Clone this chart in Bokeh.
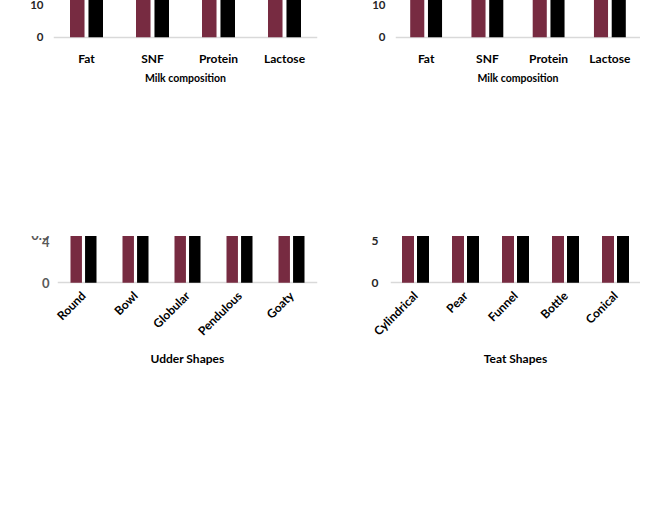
import math
from bokeh.plotting import figure
from bokeh.models import (FactorRange, Range1d, FixedTicker, ColumnDataSource, Label,
                          Legend, LegendItem)
from bokeh.transform import dodge
from bokeh.layouts import row, column
from bokeh.embed import file_html
from bokeh.resources import INLINE

# ---------------- data ----------------
comp_cats = ["Fat", "SNF", "Protein", "Lactose"]
cattle_healthy = [4.23, 7.08, 3.5, 4.5]
cattle_healthy_err = [0.79, 0.78, 0.8, 0.8]
cattle_mastitis = [3.6, 6.5, 3.03, 4.0]
cattle_mastitis_err = [0.8, 0.8, 0.78, 0.75]

buffalo_healthy = [5.81, 8.06, 3.11, 4.11]
buffalo_healthy_err = [1.09, 1.13, 1.1, 1.14]
buffalo_mastitis = [5.22, 8.0, 2.61, 4.03]
buffalo_mastitis_err = [1.17, 1.15, 1.17, 1.19]

udder_cats = ["Round", "Bowl", "Globular", "Pendulous", "Goaty"]
udder_cattle = [2.11, 2.87, 2.73, 3.39, 2.55]
udder_cattle_err = [0.22, 0.22, 0.24, 0.24, 0.22]
udder_buffalo = [3.39, 2.99, 3.08, 3.6, 2.87]
udder_buffalo_err = [0.14, 0.13, 0.16, 0.15, 0.15]

teat_cats = ["Cylindrical", "Pear", "Funnel", "Bottle", "Conical"]
teat_cattle = [1.97, 3.06, 2.91, 2.53, 2.09]
teat_cattle_err = [0.25, 0.27, 0.27, 0.26, 0.27]
teat_buffalo = [3.37, 4.18, 3.17, 2.69, 3.28]
teat_buffalo_err = [0.28, 0.28, 0.28, 0.26, 0.29]

comp_ticks = [0, 2, 4, 6, 8, 10]
udder_ticks = [0, 0.5, 1, 1.5, 2, 2.5, 3, 3.5, 4]
teat_ticks = [0, 1, 2, 3, 4, 5]

MAROON = "#772B41"
BLACK = "#000000"
ERR = "#595959"
GRID = "#D9D9D9"
FONT = "Lato"


def build(cats, v1, e1, v2, e2, names, ymin, ymax, ticks, ylabel, xlabel,
          width, height, bl, bt, br, fh, off, bw,
          tick_color, tick_size, ylab_size, ylab_standoff, yl_standoff,
          rotate, xl_size, xl_standoff, xlab_standoff, xlab_size,
          leg_size, leg_spacing, leg_margin, texts):
    p = figure(x_range=FactorRange(*cats), y_range=Range1d(ymin, ymax),
               width=width, height=height, output_backend="svg",
               toolbar_location=None, min_border_left=bl, min_border_top=bt,
               min_border_right=br, min_border_bottom=height - bt - fh)
    p.outline_line_color = None
    p.xgrid.grid_line_color = None
    p.ygrid.grid_line_color = GRID
    p.ygrid.grid_line_width = 1.5
    p.yaxis.ticker = FixedTicker(ticks=ticks)
    for ax in (p.xaxis[0], p.yaxis[0]):
        ax.axis_line_color = None
        ax.major_tick_line_color = None
        ax.minor_tick_line_color = None
        ax.major_tick_out = 0
        ax.major_tick_in = 0
        ax.major_label_text_font = FONT
        ax.major_label_text_font_style = "bold"
        ax.axis_label_text_font = FONT
        ax.axis_label_text_font_style = "bold"
        ax.axis_label_text_color = "#000000"
    p.yaxis.major_label_text_color = tick_color
    p.yaxis.major_label_text_font_size = tick_size
    p.yaxis.major_label_standoff = yl_standoff
    p.yaxis.axis_label = ylabel
    p.yaxis.axis_label_text_font_size = ylab_size
    p.yaxis.axis_label_standoff = ylab_standoff
    p.xaxis.major_label_text_color = "#000000"
    p.xaxis.major_label_text_font_size = xl_size
    p.xaxis.major_label_standoff = xl_standoff
    if rotate:
        p.xaxis.major_label_orientation = math.pi / 4
    p.xaxis.axis_label = xlabel
    p.xaxis.axis_label_text_font_size = xlab_size
    p.xaxis.axis_label_standoff = xlab_standoff

    src = ColumnDataSource(dict(
        cat=cats, v1=v1, v2=v2,
        lo1=[a - b for a, b in zip(v1, e1)], hi1=[a + b for a, b in zip(v1, e1)],
        lo2=[a - b for a, b in zip(v2, e2)], hi2=[a + b for a, b in zip(v2, e2)]))
    rends = []
    for key, lo, hi, o, col in (("v1", "lo1", "hi1", -off, MAROON),
                                ("v2", "lo2", "hi2", off, BLACK)):
        x = dodge("cat", o, range=p.x_range)
        r = p.vbar(x=x, top=key, bottom=0, width=bw, source=src,
                   fill_color=col, line_color=None)
        rends.append(r)
        p.segment(x0=x, y0=lo, x1=x, y1=hi, source=src, line_color=ERR, line_width=2)
        p.scatter(x=x, y=lo, source=src, marker="dash", size=7, line_color=ERR, line_width=2)
        p.scatter(x=x, y=hi, source=src, marker="dash", size=7, line_color=ERR, line_width=2)

    leg = Legend(items=[LegendItem(label=names[0], renderers=[rends[0]]),
                        LegendItem(label=names[1], renderers=[rends[1]])],
                 orientation="horizontal", location="center",
                 label_text_font=FONT, label_text_font_style="bold",
                 label_text_font_size=leg_size, label_standoff=2,
                 glyph_width=9, glyph_height=9, spacing=leg_spacing,
                 padding=0, margin=leg_margin, border_line_color=None,
                 background_fill_alpha=0, label_height=12)
    p.add_layout(leg, "below")

    # texts given in pixel coords relative to the figure's top-left corner
    for (tx, ty, txt, size) in texts:
        p.add_layout(Label(x=tx - bl, y=bt + fh - ty, x_units="screen", y_units="screen",
                           text=txt, text_font=FONT, text_font_style="bold",
                           text_font_size=size, text_align="center",
                           text_baseline="middle", text_color="#000000"))
    return p


W = 320
pa = build(comp_cats, cattle_healthy, cattle_healthy_err, cattle_mastitis, cattle_mastitis_err,
           ["Cattle Healthy", "Cattle Mastitis"], -0.15, 10.15, comp_ticks,
           "Component (%)", "Milk composition",
           W, 236, 53, 42, 3, 116, 0.14, 0.22,
           "#262626", "11.5px", "11px", 8, 10,
           False, "12px", 8, 3, "10.5px",
           "11.5px", 20, 4,
           [(9, 5, "(a)", "11px"), (162, 8, "Milk composition analysis of cattle in healthy", "11.5px"),
            (162, 23, "and subclinical mastitis milk", "11.5px")])

pb = build(comp_cats, buffalo_healthy, buffalo_healthy_err, buffalo_mastitis, buffalo_mastitis_err,
           ["Buffalo Healthy", "Buffalo Mastitis"], -0.15, 10.15, comp_ticks,
           "Component (%)", "Milk composition",
           W, 236, 75, 42, 0, 116, 0.145, 0.23,
           "#262626", "11.5px", "11px", 8, 10,
           False, "12px", 8, 3, "10.5px",
           "11.5px", 20, 4,
           [(32, 8, "(b)", "11px"), (186, 8, "Milk composition analysis of buffalo in healthy", "11.5px"),
            (186, 23, "and subclinical mastitis milk", "11.5px")])

pc = build(udder_cats, udder_cattle, udder_cattle_err, udder_buffalo, udder_buffalo_err,
           ["Cattle", "Buffalo"], -0.06, 4.06, udder_ticks,
           "Somatic Cell count x10\u2075", "Udder Shapes",
           W, 240, 57, 52, 3, 98, 0.14, 0.22,
           "#595959", "13px", "10.5px", 6, 8,
           True, "12px", 5, 4, "12px",
           "12.5px", 5, 2,
           [(9, 27, "(c)", "11px"), (162, 33, "Somatic Cell Count In different Udder Shpes", "11.5px")])

pd_ = build(teat_cats, teat_cattle, teat_cattle_err, teat_buffalo, teat_buffalo_err,
            ["Cattle", "Buffalo"], -0.075, 5.075, teat_ticks,
            "Somatic cell Count x10\u2075", "Teat Shapes",
            W, 240, 70, 52, 0, 98, 0.15, 0.24,
            "#262626", "12px", "11px", 8, 12,
            True, "12px", 5, 4, "12px",
            "12px", 28, 2,
            [(32, 27, "(d)", "11px"), (185, 33, "Somatic cell Count in different Teat shapes", "11.5px")])

root = column(row(pa, pb), row(pc, pd_))

open("out.html", "w").write(file_html(root, INLINE))
